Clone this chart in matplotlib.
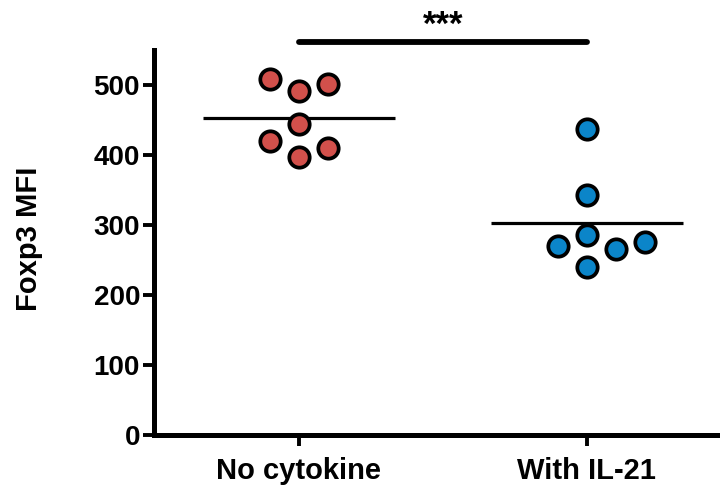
import numpy as np
import matplotlib.pyplot as plt
from matplotlib import rcParams

rcParams['font.family'] = ['Liberation Sans', 'DejaVu Sans']
rcParams['font.weight'] = 'bold'

groups = ['No cytokine', 'With IL-21']
no_cytokine = [509, 491, 501, 444, 420, 397, 410]
with_il21 = [437, 343, 286, 270, 266, 276, 240]
significance = '***'

# horizontal scatter of the dots inside each column (category units)
jitter_no_cytokine = [-0.1, 0.0, 0.1, 0.0, -0.1, 0.0, 0.1]
jitter_il21 = [0.0, 0.0, 0.0, -0.1, 0.1, 0.2, 0.0]

colors = ['#d2504b', '#0b85c9']


def main():
    fig = plt.figure(figsize=(7.2, 4.86), dpi=100)
    ax = fig.add_axes([0.2139, 0.1049, 0.7861, 0.7921])

    series = [no_cytokine, with_il21]
    jitters = [jitter_no_cytokine, jitter_il21]
    for i, (vals, jit, c) in enumerate(zip(series, jitters, colors)):
        xs = i + np.array(jit)
        m = np.mean(vals)
        ax.plot([i - 0.333, i + 0.333], [m, m], color='k', lw=2.3, zorder=2,
                solid_capstyle='butt')
        ax.scatter(xs, vals, s=215, color=c, edgecolor='k', linewidth=2.7,
                   zorder=3, clip_on=False)

    # significance bar
    ax.plot([0, 1], [561, 561], color='k', lw=4.2, solid_capstyle='round',
            clip_on=False)
    ax.text(0.5, 585, significance, ha='center', va='center', fontsize=25,
            fontweight='bold', clip_on=False)

    ax.set_xlim(-0.503, 1.462)
    ax.set_ylim(0, 550)
    ax.set_xticks([0, 1])
    ax.set_xticklabels(groups, fontsize=21, fontweight='bold')
    ax.set_yticks(np.arange(0, 600, 100))
    ax.set_yticklabels([str(v) for v in range(0, 600, 100)], fontsize=20,
                       fontweight='bold')

    for side in ['top', 'right']:
        ax.spines[side].set_visible(False)
    for side in ['left', 'bottom']:
        ax.spines[side].set_linewidth(3.6)
        ax.spines[side].set_capstyle('projecting')
    ax.tick_params(axis='both', length=8, width=2.8, color='k')
    ax.tick_params(axis='x', pad=8)
    ax.tick_params(axis='y', pad=2)

    ax.set_ylabel('Foxp3 MFI', fontsize=21, fontweight='bold')
    ax.yaxis.set_label_coords(-0.197, 0.51)

    fig.savefig('out.png', dpi=100)


if __name__ == '__main__':
    main()
